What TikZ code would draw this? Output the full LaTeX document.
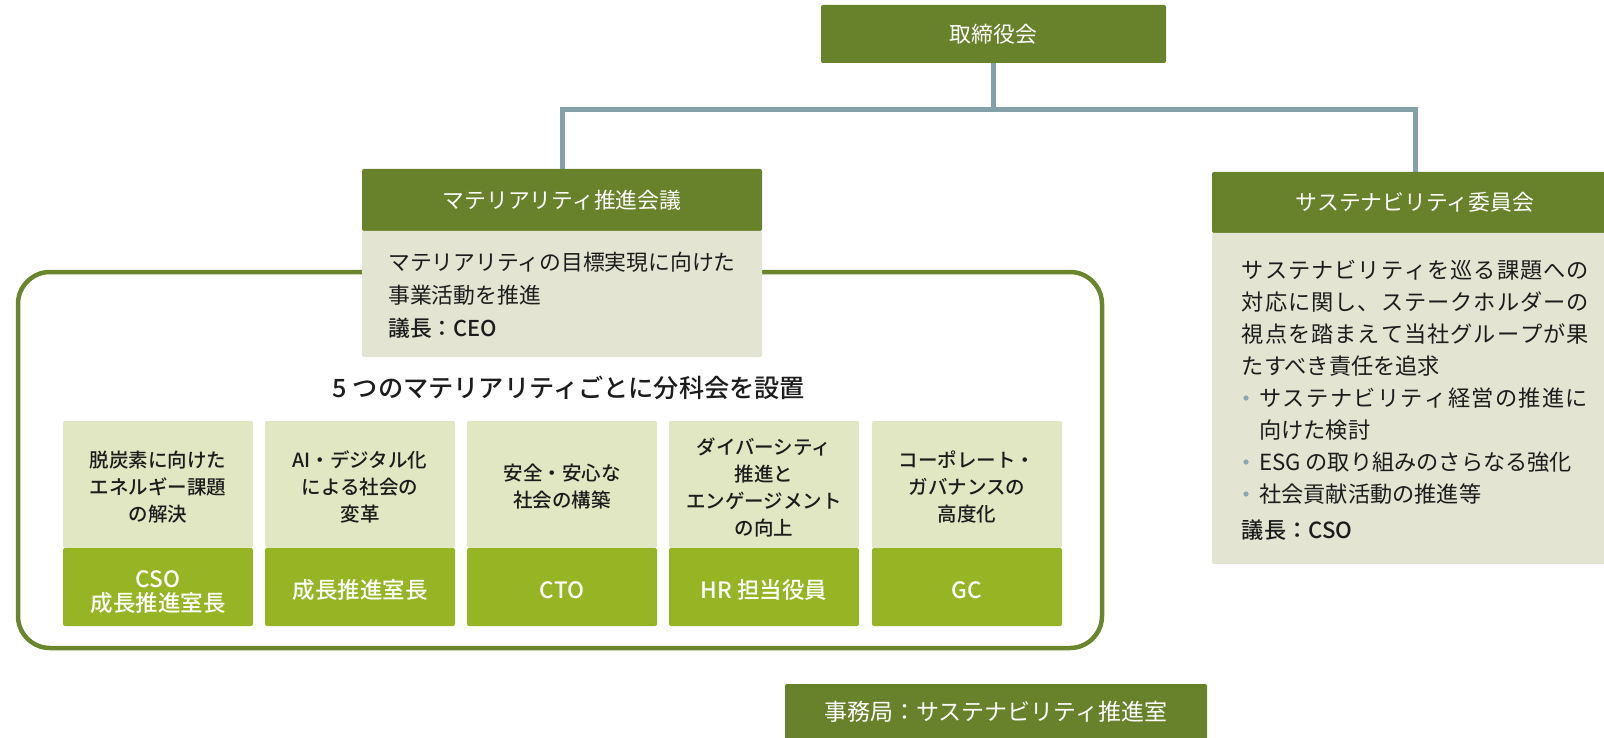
\documentclass[tikz,border=0pt]{standalone}
\usepackage{fontspec}
\usetikzlibrary{backgrounds}
\setmainfont{Noto Sans CJK JP}
\newfontfamily\zmed{Noto Sans CJK JP Medium}
\definecolor{hdrolive}{HTML}{68812B}
\definecolor{frameolive}{HTML}{6A852D}
\definecolor{bodygrey}{HTML}{E3E5D2}
\definecolor{coltopc}{HTML}{E2E7C3}
\definecolor{colbotc}{HTML}{97B424}
\definecolor{connc}{HTML}{84A1AA}
\definecolor{ink}{HTML}{1C1C1C}
\definecolor{bulletc}{HTML}{8DA7B5}
\newcommand\zspread[2]{\makebox[#1][s]{\zspreadit#2\relax}}
\def\zspreadit#1#2\relax{#1\zspreadA#2\relax}
\def\zspreadA#1{\ifx\relax#1\else\hfill#1\expandafter\zspreadA\fi}
\tikzset{
 hdr/.style={fill=hdrolive, text=white, rounded corners=2, inner sep=0, font=\fontsize{21.8}{26}\selectfont},
 bodybox/.style={fill=bodygrey, rounded corners=2, inner sep=0},
 coltop/.style={fill=coltopc, rounded corners=2, minimum width=190, minimum height=127, inner sep=0},
 colbot/.style={fill=colbotc, rounded corners=2, minimum width=190, minimum height=78, inner sep=0},
 toptxt/.style={inner sep=0, align=center, text=ink, font=\zmed\fontsize{19.5}{27}\selectfont},
 bottxt/.style={inner sep=0, align=center, text=white, font=\zmed\fontsize{22.5}{24.5}\selectfont},
 conn/.style={draw=connc, line width=5},
 bigframe/.style={draw=frameolive, line width=4.5, rounded corners=32, minimum width=1084, minimum height=376, inner sep=0},
 mtxt/.style={anchor=base west, inner sep=0, text=ink, font=\fontsize{21.8}{26}\selectfont},
 stxt/.style={anchor=base west, inner sep=0, text=ink, font=\fontsize{22.2}{26}\selectfont},
 dot/.style={circle, fill=bulletc, minimum size=5.2, inner sep=0},
}
\begin{document}
\begin{tikzpicture}[x=1pt,y=-1pt]
\useasboundingbox (0,0) rectangle (1604,738);
\clip (0,0) rectangle (1604,738);

% frame around the sub-committees
\node[bigframe] (frame) at (560,460) {};

% headers
\node[hdr, minimum width=345, minimum height=58] (board) at (993.5,34) {取締役会};
\node[hdr, minimum width=400, minimum height=62] (mat) at (562,200) {マテリアリティ推進会議};
\node[hdr, minimum width=406, minimum height=61] (sus) at (1415,202.5) {サステナビリティ委員会};

% connectors
\begin{scope}[on background layer]
\coordinate (bus) at (0,110);
\draw[conn] (board.south) -- (board.south |- bus);
\draw[conn] (mat.north) -- (mat.north |- bus) -- (sus.north |- bus) -- (sus.north);
\end{scope}

% materiality body
\node[bodybox, minimum width=400, minimum height=126] (matbody) at (562,294) {};
\node[mtxt] (m1) at (388,270.3) {マテリアリティの目標実現に向けた};
\node[mtxt] (m2) at (388,303.3) {事業活動を推進};
\node[mtxt, font=\zmed\fontsize{21.8}{26}\selectfont] (m3) at (388,336.3) {議長：CEO};

% sustainability body
\node[bodybox, minimum width=406, minimum height=331] (susbody) at (1415,398.5) {};
\node[stxt] (s1) at (1241.7,278.4) {\zspread{347pt}{サステナビリティを巡る課題への}};
\node[stxt] (s2) at (1241.7,310.4) {\zspread{347pt}{対応に関し、ステークホルダーの}};
\node[stxt] (s3) at (1241.7,342.4) {\zspread{347pt}{視点を踏まえて当社グループが果}};
\node[stxt] (s4) at (1241.7,374.4) {たすべき責任を追求};
\node[dot] (d1) at (1246,398) {};
\node[stxt] (s5) at (1259,406.4) {\zspread{329pt}{サステナビリティ経営の推進に}};
\node[stxt] (s6) at (1259,438.4) {向けた検討};
\node[dot] (d2) at (1246,462) {};
\node[stxt] (s7) at (1259,470.4) {ESG の取り組みのさらなる強化};
\node[dot] (d3) at (1246,494) {};
\node[stxt] (s8) at (1259,502.4) {社会貢献活動の推進等};
\node[stxt, font=\zmed\fontsize{22.2}{26}\selectfont] (s9) at (1241.7,538.4) {議長：CSO};

% title
\node[inner sep=0, text=ink, font=\zmed\fontsize{25.2}{28}\selectfont] (title) at (569,388) {5 つのマテリアリティごとに分科会を設置};

% columns: boxes
\foreach \cx/\k in {158/1,360/2,562/3,764/4,967/5}{
  \node[coltop] (t\k) at (\cx,484.5) {};
  \node[colbot] (b\k) at (\cx,587) {};
}
% columns: texts
\node[toptxt] (t1x) at (t1.center) [yshift=-2.5] {脱炭素に向けた\\エネルギー課題\\の解決};
\node[toptxt] (t2x) at (t2.center) [yshift=-2.5] {AI・デジタル化\\による社会の\\変革};
\node[toptxt] (t3x) at (t3.center) [yshift=-2.5] {安全・安心な\\社会の構築};
\node[toptxt] (t4x) at (t4.center) [yshift=-2.5] {ダイバーシティ\\推進と\\エンゲージメント\\の向上};
\node[toptxt] (t5x) at (t5.center) [yshift=-2.5] {コーポレート・\\ガバナンスの\\高度化};
\node[bottxt] (b1x) at (b1.center) [yshift=-5] {CSO\\成長推進室長};
\node[bottxt] (b2x) at (b2.center) [yshift=-3] {成長推進室長};
\node[bottxt] (b3x) at (b3.center) [yshift=-3] {CTO};
\node[bottxt] (b4x) at (b4.center) [yshift=-3] {HR 担当役員};
\node[bottxt] (b5x) at (b5.center) [yshift=-3] {GC};

% secretariat
\node[hdr, minimum width=422, minimum height=56, font=\fontsize{23}{26}\selectfont] (sec) at (996,712) {事務局：サステナビリティ推進室};
\end{tikzpicture}
\end{document}
